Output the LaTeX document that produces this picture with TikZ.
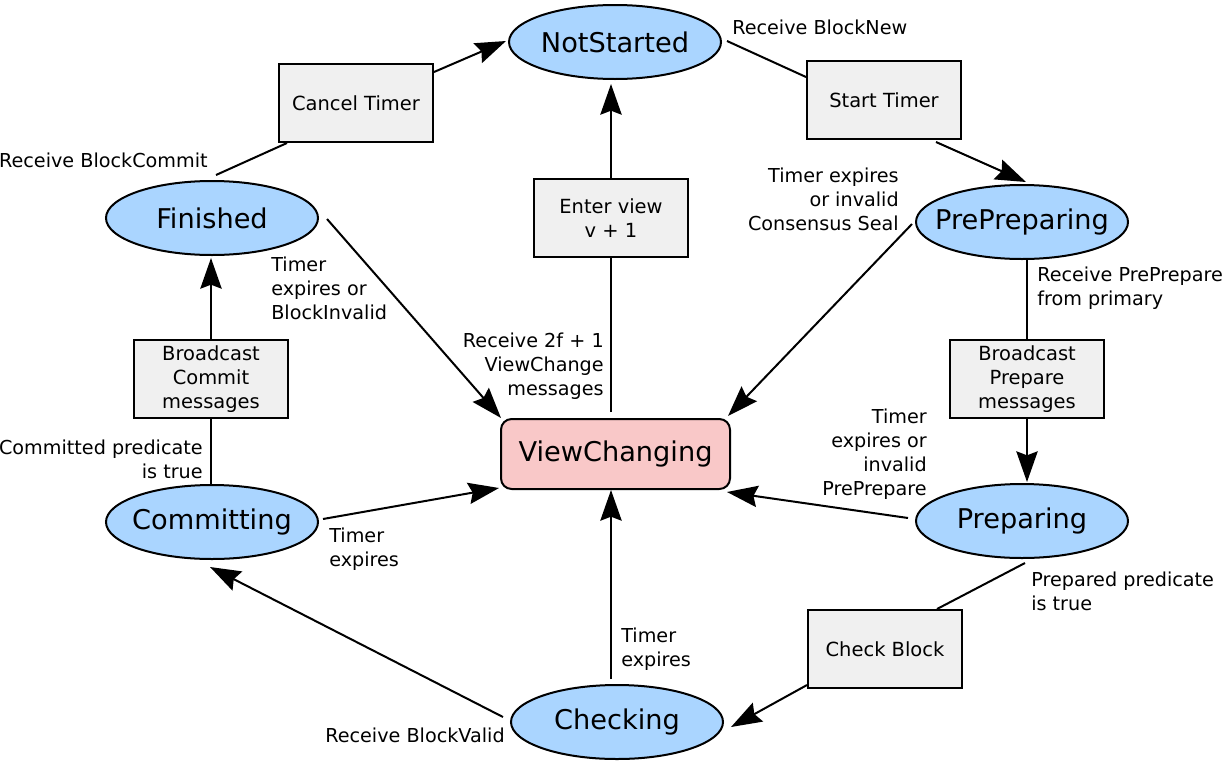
\documentclass[tikz,border=0pt]{standalone}
\usepackage{fontspec}
\setmainfont{DejaVu Sans}
\usetikzlibrary{shapes.geometric,arrows.meta,calc}
\definecolor{stblue}{RGB}{170,213,255}
\definecolor{vcpink}{RGB}{249,200,200}
\definecolor{boxgray}{RGB}{240,240,240}
\tikzset{
  state/.style={ellipse,draw=black,line width=1.5pt,fill=stblue,inner sep=0pt,
    minimum width=159pt,minimum height=55.5pt,font=\fontsize{20.4}{24}\selectfont},
  vcstate/.style={rectangle,rounded corners=8pt,draw=black,line width=1.5pt,fill=vcpink,
    inner sep=0pt,minimum width=171.75pt,minimum height=52.5pt,font=\fontsize{20.4}{24}\selectfont},
  actbox/.style={rectangle,draw=black,line width=1.5pt,fill=boxgray,inner sep=0pt,
    minimum width=115.5pt,minimum height=58.5pt,align=center,font=\fontsize{14.6}{18}\selectfont},
  lbl/.style={inner sep=0pt,font=\fontsize{14.4}{18}\selectfont},
  conn/.style={line width=1.5pt},
  arr/.style={line width=1.5pt,-{Stealth[length=23pt,width=16pt,inset=3pt]}}
}
\begin{document}
\begin{tikzpicture}[x=0.75pt,y=-0.75pt]
\useasboundingbox (0,0) rectangle (1223,764);
% states
\node[state] (ns) at (615,42) {\makebox[0pt]{NotStarted}};
\node[state] (pp) at (1022,222) {\makebox[0pt]{PrePreparing}};
\node[state] (prep) at (1022,521) {\makebox[0pt]{Preparing}};
\node[state] (chk) at (617,722) {\makebox[0pt]{Checking}};
\node[state] (com) at (212,522) {\makebox[0pt]{Committing}};
\node[state] (fin) at (212,218) {\makebox[0pt]{Finished}};
\node[vcstate] (vc) at (615.5,454) {ViewChanging};
% action boxes
\node[actbox] (ct) at (356,103) {Cancel Timer};
\node[actbox] (st) at (884,100) {Start Timer};
\node[actbox] (ev) at (611,218) {Enter view\\v + 1};
\node[actbox] (bc) at (211,379) {Broadcast\\Commit\\messages};
\node[actbox] (bp) at (1027,379) {Broadcast\\Prepare\\messages};
\node[actbox] (cb) at (885,649) {Check Block};
% main cycle
\draw[conn] ($(fin.north)+(4,-5)$) -- ($(ct.south west)+(9,0)$);
\draw[arr] ($(ct.north east)+(0,9)$) -- ($(ns.west)+(-2,-1)$);
\draw[conn] ($(ns.east)+(5,-1)$) -- ($(st.north west)+(0,17)$);
\draw[arr] ($(st.south west)+(130,2)$) -- ($(pp.north)+(4,-2)$);
\draw[conn] (bp.north |- pp.south) -- (bp.north);
\draw[arr] (bp.south) -- ($(bp.south |- prep.north)+(0,-1)$);
\draw[conn] ($(prep.south)+(3,4)$) -- ($(cb.north west)+(130,0)$);
\draw[arr] ($(cb.south west)+(0,-4)$) -- ($(chk.east)+(7,5)$);
\draw[arr] ($(chk.west)+(-7,-5)$) -- ($(com.south)+(-2,7)$);
\draw[conn] (bc.south |- com.north) -- (bc.south);
\draw[arr] (bc.north) -- ($(bc.north |- fin.south)+(0,2)$);
% to ViewChanging
\draw[arr] ($(fin.east)+(8,1)$) -- ($(vc.north west)+(1,0)$);
\draw[arr] ($(pp.west)+(-3,2)$) -- ($(vc.north east)+(-3,-2)$);
\draw[arr] ($(prep.west)+(-7,-3)$) -- ($(vc.south east)+(-4,2)$);
\draw[arr] ($(com.east)+(4,-3)$) -- ($(vc.south west)+(-1,-2)$);
\draw[arr] ($(chk.north)+(-6,-5)$) -- ($(vc.south)+(-4.5,0)$);
\draw[conn] ($(vc.north)+(-4.5,-6)$) -- (ev.south);
\draw[arr] (ev.north) -- ($(ev.north |- ns.south)+(0,4)$);
% labels
\node[lbl,anchor=east] (l1) at (208,160) {Receive BlockCommit};
\node[lbl,anchor=west] (l2) at (732,27) {Receive BlockNew};
\node[lbl,anchor=west,align=left] (l3) at (1037,288) {Receive PrePrepare\\from primary};
\node[lbl,anchor=west,align=left] (l4) at (1031,591) {Prepared predicate\\is true};
\node[lbl,anchor=east] (l5) at (505,735) {Receive BlockValid};
\node[lbl,anchor=east,align=right] (l6) at (203,459.5) {Committed predicate\\is true};
\node[lbl,anchor=west,align=left] (l7) at (271,288) {Timer\\expires or\\BlockInvalid};
\node[lbl,anchor=east,align=right] (l8) at (899,199) {Timer expires\\or invalid\\Consensus Seal};
\node[lbl,anchor=east,align=right] (l9) at (927,454) {Timer\\expires or\\invalid\\PrePrepare};
\node[lbl,anchor=west,align=left] (l10) at (329,549) {Timer\\expires};
\node[lbl,anchor=west,align=left] (l11) at (621,649) {Timer\\expires};
\node[lbl,anchor=east,align=right] (l12) at (604,366) {Receive 2f + 1\\ViewChange\\messages};
\end{tikzpicture}
\end{document}
